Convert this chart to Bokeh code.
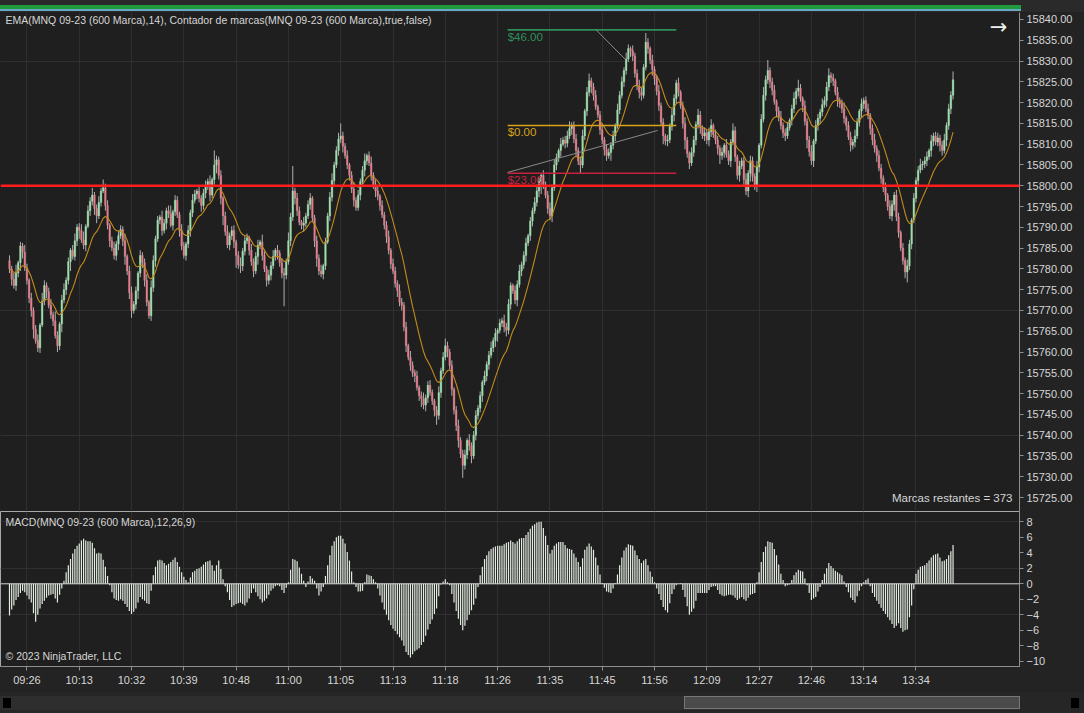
from bokeh.plotting import figure
from bokeh.models import (Range1d, FixedTicker, Span, Label, Div,
                          ColumnDataSource, GlobalInlineStyleSheet, NumeralTickFormatter)
from bokeh.layouts import column
from bokeh.embed import file_html
from bokeh.resources import INLINE

# ---------------- data ----------------
first_open = 15782.0
closes = [
    15780.0, 15777.5, 15776.0, 15779.0, 15781.5, 15785.5, 15784.0, 15780.25, 15777.25, 15773.0,
    15770.0, 15765.5, 15762.75, 15761.0, 15766.5, 15772.25, 15776.0, 15774.5, 15771.25, 15769.0,
    15767.5, 15764.0, 15761.5, 15766.75, 15772.5, 15775.0, 15777.25, 15781.75, 15784.5, 15783.0,
    15786.75, 15790.0, 15789.25, 15787.0, 15785.75, 15790.25, 15794.0, 15796.25, 15797.75, 15794.5,
    15792.75, 15796.0, 15798.75, 15799.5, 15795.25, 15790.5, 15786.75, 15785.0, 15783.25, 15786.0,
    15788.0, 15789.5, 15786.75, 15783.0, 15779.5, 15774.25, 15770.0, 15771.5, 15774.75, 15779.0,
    15783.25, 15781.5, 15777.25, 15772.0, 15768.75, 15775.5, 15782.0, 15787.25, 15791.75, 15792.5,
    15789.25, 15791.0, 15794.0, 15793.25, 15790.5, 15793.75, 15796.5, 15793.0, 15789.25, 15785.5,
    15783.25, 15786.0, 15789.25, 15793.5, 15796.5, 15798.0, 15798.75, 15797.0, 15795.25, 15798.25,
    15800.0, 15801.0, 15797.75, 15801.5, 15805.0, 15806.25, 15802.5, 15797.0, 15792.75, 15789.0,
    15785.75, 15788.0, 15789.25, 15786.5, 15783.25, 15781.0, 15780.75, 15784.25, 15786.75, 15787.5,
    15784.5, 15781.75, 15779.5, 15783.0, 15785.75, 15786.5, 15783.25, 15780.0, 15777.25, 15778.5,
    15780.75, 15783.0, 15784.5, 15783.75, 15781.5, 15779.0, 15778.5, 15781.75, 15786.75, 15792.5,
    15798.75, 15797.0, 15794.0, 15791.25, 15790.5, 15791.0, 15792.75, 15795.5, 15797.0, 15792.25,
    15786.75, 15782.5, 15779.5, 15778.75, 15780.75, 15786.5, 15792.75, 15797.25, 15801.25, 15805.0,
    15808.5, 15811.25, 15812.0, 15809.5, 15807.25, 15805.0, 15802.5, 15799.25, 15796.5, 15794.75,
    15797.75, 15801.0, 15803.75, 15806.0, 15807.25, 15805.5, 15802.5, 15800.25, 15798.75, 15797.5,
    15795.25, 15793.0, 15790.5, 15787.75, 15784.5, 15781.25, 15779.5, 15776.5, 15774.75, 15772.0,
    15771.25, 15766.0, 15761.5, 15758.75, 15756.75, 15755.0, 15754.25, 15751.5, 15749.5, 15748.75,
    15747.25, 15749.0, 15752.0, 15750.25, 15748.25, 15746.0, 15744.75, 15750.25, 15755.5, 15758.75,
    15761.5, 15760.0, 15756.75, 15751.0, 15746.0, 15742.25, 15738.75, 15735.5, 15732.75, 15735.25,
    15738.75, 15737.5, 15735.0, 15740.0, 15744.75, 15746.5, 15749.5, 15752.75, 15754.25, 15757.0,
    15759.25, 15761.0, 15762.75, 15764.5, 15765.25, 15767.0, 15767.5, 15766.0, 15765.25, 15771.5,
    15776.0, 15774.75, 15772.5, 15776.25, 15779.5, 15781.0, 15783.25, 15786.25, 15788.0, 15791.5,
    15794.0, 15796.0, 15798.75, 15801.0, 15802.5, 15800.25, 15797.75, 15794.5, 15792.75, 15799.5,
    15805.0, 15806.75, 15808.5, 15810.0, 15811.0, 15810.25, 15812.0, 15813.75, 15814.5, 15811.25,
    15808.5, 15806.0, 15805.0, 15812.0, 15818.0, 15822.5, 15825.25, 15823.75, 15821.75, 15819.0,
    15817.0, 15813.5, 15811.0, 15808.75, 15807.25, 15808.0, 15809.75, 15812.0, 15814.5, 15818.25,
    15821.75, 15825.0, 15827.75, 15830.5, 15833.0, 15832.5, 15831.25, 15827.0, 15824.0, 15822.5,
    15821.75, 15828.5, 15834.5, 15833.0, 15830.25, 15828.0, 15825.75, 15822.75, 15819.25, 15815.25,
    15812.0, 15810.75, 15811.0, 15814.25, 15817.0, 15821.0, 15824.75, 15822.5, 15819.25, 15815.0,
    15811.0, 15807.75, 15805.5, 15808.0, 15811.0, 15814.75, 15817.0, 15814.0, 15812.0, 15812.75,
    15811.0, 15813.0, 15814.5, 15812.25, 15811.0, 15809.0, 15807.25, 15808.0, 15809.75, 15807.5,
    15806.0, 15810.5, 15813.25, 15807.0, 15802.5, 15804.75, 15806.0, 15801.5, 15798.75, 15803.0,
    15806.0, 15802.25, 15800.0, 15804.5, 15809.75, 15816.0, 15821.75, 15825.5, 15827.75, 15825.0,
    15823.0, 15820.25, 15818.0, 15816.5, 15814.5, 15812.75, 15812.0, 15814.0, 15815.75, 15818.5,
    15821.0, 15822.75, 15823.5, 15821.0, 15819.25, 15815.5, 15811.0, 15808.25, 15806.0, 15810.75,
    15814.5, 15816.25, 15817.75, 15819.5, 15820.5, 15823.75, 15826.5, 15826.0, 15825.25, 15822.5,
    15820.5, 15819.75, 15818.5, 15816.25, 15814.5, 15811.75, 15809.75, 15810.5, 15812.0, 15815.25,
    15818.0, 15819.75, 15820.5, 15818.5, 15817.0, 15813.75, 15811.0, 15809.0, 15807.25, 15804.25,
    15801.75, 15799.5, 15797.75, 15795.0, 15792.75, 15795.5, 15797.75, 15792.5, 15788.75, 15785.0,
    15782.0, 15779.25, 15780.75, 15786.0, 15791.75, 15797.0, 15801.25, 15803.75, 15805.0, 15805.25,
    15806.0, 15807.0, 15808.5, 15810.75, 15812.0, 15810.5, 15811.5, 15809.75, 15808.5, 15811.0,
    15814.5, 15818.5, 15821.75, 15825.5,
]
# wick lengths in ticks (1 tick = 0.25)
wick_up_ticks = [
    5, 3, 6, 8, 2, 4, 3, 7, 4, 2, 5, 3, 4, 6, 2, 8, 5, 3, 4, 6,
    3, 9, 4, 2, 5, 6, 3, 4, 2, 5, 7, 3, 4, 6, 8, 2, 5, 4, 7, 3,
    4, 6, 3, 8, 4, 5, 2, 4, 6, 3, 5, 4, 3, 7, 2, 5, 6, 3, 4, 2,
    5, 3, 4, 6, 2, 7, 5, 3, 4, 2, 6, 4, 3, 5, 8, 2, 5, 4, 3, 6,
    4, 2, 5, 3, 6, 4, 2, 5, 3, 4, 5, 3, 6, 2, 14, 4, 3, 5, 2, 4,
    6, 3, 4, 5, 2, 4, 7, 3, 5, 4, 2, 6, 3, 4, 5, 2, 7, 4, 3, 5,
    4, 6, 2, 5, 3, 4, 5, 3, 8, 4, 24, 3, 5, 4, 2, 6, 3, 4, 5, 2,
    3, 5, 4, 6, 2, 4, 3, 5, 7, 3, 4, 6, 12, 4, 3, 5, 2, 4, 6, 3,
    5, 3, 4, 7, 2, 4, 6, 3, 5, 4, 2, 5, 3, 4, 6, 2, 5, 4, 3, 6,
    4, 3, 5, 2, 6, 4, 3, 5, 2, 4, 6, 3, 4, 5, 3, 2, 4, 6, 3, 5,
    7, 4, 3, 5, 2, 4, 6, 3, 4, 5, 2, 6, 3, 4, 5, 3, 4, 2, 5, 3,
    4, 6, 3, 5, 2, 4, 3, 6, 4, 5, 3, 2, 5, 4, 6, 3, 4, 5, 2, 4,
    3, 5, 6, 4, 2, 5, 3, 4, 6, 3, 5, 4, 2, 6, 3, 4, 5, 7, 3, 4,
    5, 3, 4, 6, 2, 5, 7, 3, 4, 5, 2, 4, 6, 3, 5, 4, 3, 5, 2, 6,
    4, 5, 3, 6, 4, 2, 5, 3, 4, 6, 5, 3, 9, 4, 2, 5, 3, 4, 6, 3,
    4, 2, 5, 3, 6, 4, 3, 5, 2, 4, 6, 3, 2, 5, 4, 3, 6, 4, 2, 5,
    3, 4, 6, 2, 5, 4, 3, 5, 2, 6, 4, 3, 7, 4, 2, 5, 3, 4, 6, 3,
    5, 4, 3, 6, 2, 5, 8, 4, 10, 3, 4, 5, 2, 4, 6, 3, 4, 5, 2, 4,
    6, 3, 8, 4, 2, 5, 3, 4, 6, 2, 5, 4, 3, 6, 4, 5, 7, 3, 4, 2,
    5, 3, 4, 6, 2, 4, 5, 3, 6, 4, 2, 5, 3, 4, 5, 2, 4, 6, 3, 5,
    4, 3, 5, 2, 6, 4, 3, 5, 4, 2, 5, 3, 6, 4, 2, 5, 3, 4, 6, 3,
    4, 5, 2, 6, 3, 4, 5, 3, 4, 6, 3, 5, 4, 8,
]
wick_dn_ticks = [
    4, 6, 3, 5, 4, 8, 6, 3, 4, 5, 6, 9, 3, 4, 5, 2, 4, 6, 3, 4,
    5, 3, 6, 4, 8, 3, 5, 4, 9, 3, 4, 5, 8, 3, 4, 6, 2, 5, 4, 6,
    7, 3, 4, 2, 5, 4, 6, 3, 4, 5, 6, 3, 5, 8, 4, 6, 7, 3, 5, 8,
    4, 5, 6, 4, 3, 5, 4, 6, 3, 4, 5, 3, 6, 4, 2, 5, 4, 3, 6, 4,
    3, 5, 4, 6, 4, 3, 5, 4, 6, 4, 5, 4, 6, 3, 5, 8, 4, 6, 9, 4,
    3, 5, 4, 6, 12, 4, 7, 5, 4, 3, 5, 4, 6, 3, 8, 4, 5, 3, 6, 4,
    5, 3, 4, 6, 4, 5, 30, 4, 3, 5, 4, 6, 5, 3, 4, 6, 4, 3, 5, 4,
    6, 8, 4, 3, 5, 4, 2, 5, 4, 6, 3, 5, 4, 6, 3, 4, 5, 4, 6, 3,
    3, 5, 4, 6, 4, 3, 5, 4, 6, 4, 5, 3, 4, 6, 4, 5, 3, 4, 6, 4,
    5, 4, 6, 3, 5, 4, 6, 3, 5, 8, 4, 6, 5, 3, 4, 6, 9, 4, 5, 3,
    3, 5, 4, 6, 4, 5, 7, 4, 12, 4, 4, 5, 7, 3, 5, 4, 4, 6, 3, 5,
    5, 3, 4, 6, 8, 3, 4, 5, 6, 4, 5, 3, 4, 6, 3, 5, 4, 6, 3, 5,
    5, 3, 4, 6, 12, 4, 3, 5, 4, 6, 3, 5, 4, 6, 2, 5, 4, 3, 6, 4,
    6, 4, 8, 3, 4, 5, 4, 6, 5, 3, 3, 5, 4, 6, 5, 3, 8, 4, 5, 3,
    4, 3, 5, 4, 3, 6, 5, 4, 4, 6, 5, 3, 3, 5, 4, 6, 6, 4, 5, 3,
    8, 4, 5, 3, 4, 6, 5, 4, 3, 5, 9, 4, 6, 3, 4, 5, 4, 6, 3, 5,
    4, 6, 5, 3, 4, 6, 8, 4, 5, 3, 4, 6, 3, 5, 4, 6, 3, 5, 4, 6,
    8, 5, 4, 6, 5, 3, 3, 5, 4, 6, 5, 3, 6, 4, 4, 5, 5, 3, 3, 5,
    4, 6, 5, 3, 6, 4, 8, 5, 4, 6, 3, 5, 5, 4, 3, 6, 4, 5, 5, 3,
    6, 4, 4, 5, 5, 3, 6, 4, 5, 3, 4, 6, 5, 3, 4, 6, 5, 4, 6, 3,
    5, 4, 6, 4, 3, 5, 6, 4, 5, 3, 4, 6, 10, 4, 5, 3, 4, 6, 3, 5,
    4, 5, 3, 6, 5, 3, 4, 6, 5, 3, 6, 4, 5, 4,
]
macd_hist = [
    -4.1, -3.3, -2.8, -2.1, -1.7, -1.2, -0.9, -1.1, -1.5, -2.0,
    -2.4, -3.8, -4.9, -4.0, -3.2, -2.6, -2.2, -1.8, -1.5, -1.4,
    -1.3, -1.9, -2.4, -1.4, -0.6, 0.4, 1.5, 2.4, 3.2, 3.9,
    4.5, 4.9, 5.2, 5.6, 5.8, 5.6, 5.5, 5.5, 5.3, 4.6,
    3.9, 4.0, 3.9, 3.1, 2.2, 1.0, -0.2, -1.1, -1.9, -2.1,
    -2.2, -2.0, -2.2, -2.6, -3.0, -3.5, -3.9, -3.6, -3.2, -2.4,
    -1.7, -2.0, -2.2, -2.5, -2.6, -0.9, 1.1, 2.2, 3.0, 3.1,
    3.0, 2.7, 2.4, 2.6, 2.8, 3.1, 3.4, 2.8, 2.2, 1.5,
    0.9, 0.5, 0.2, 0.8, 1.5, 1.7, 1.9, 2.0, 2.2, 2.5,
    2.8, 2.9, 3.0, 2.4, 1.7, 2.4, 3.0, 1.9, 0.6, -0.3,
    -1.1, -2.1, -3.0, -2.8, -2.6, -2.5, -2.4, -2.6, -2.8, -2.4,
    -1.9, -1.2, -0.6, -1.1, -1.6, -2.0, -2.4, -2.2, -1.9, -1.4,
    -0.9, -0.6, -0.3, -0.2, -0.3, -0.8, -1.2, -0.5, 0.2, 1.8,
    3.2, 3.1, 2.9, 2.1, 1.3, 0.4, -0.4, 0.3, 1.0, 0.7,
    0.4, -0.6, -1.5, -1.0, -0.4, 1.0, 2.4, 3.7, 4.9, 5.5,
    6.0, 6.2, 6.2, 5.8, 5.2, 4.1, 3.0, 1.6, 0.2, -0.4,
    -1.0, -1.0, -0.9, 0.2, 1.2, 1.1, 1.0, 0.6, 0.2, -0.6,
    -1.5, -2.4, -3.3, -4.0, -4.7, -5.3, -5.8, -6.1, -6.5, -6.9,
    -7.3, -8.0, -8.8, -9.2, -9.5, -9.1, -8.7, -8.5, -8.3, -7.9,
    -7.5, -6.7, -5.9, -5.2, -4.6, -3.9, -3.2, -1.6, -0.1, 0.3,
    0.6, 0.2, -0.2, -1.3, -2.4, -3.5, -4.5, -5.3, -6.0, -5.4,
    -4.7, -4.0, -3.4, -2.7, -1.9, -0.4, 1.1, 2.2, 3.2, 3.7,
    4.2, 4.5, 4.7, 4.8, 4.9, 4.9, 4.9, 5.1, 5.3, 5.4,
    5.6, 5.4, 5.2, 5.5, 5.8, 5.9, 5.9, 6.3, 6.7, 7.1,
    7.5, 7.7, 7.9, 8.0, 8.0, 7.2, 6.2, 5.0, 3.9, 4.4,
    4.9, 5.2, 5.4, 5.4, 5.4, 5.0, 4.6, 4.5, 4.4, 3.9,
    3.4, 2.8, 2.2, 3.3, 4.4, 4.8, 5.2, 4.8, 4.4, 3.4,
    2.4, 1.2, 0.1, -0.5, -1.0, -1.1, -1.2, -0.6, 0.1, 1.2,
    2.4, 3.4, 4.3, 4.7, 5.1, 5.0, 4.9, 4.3, 3.7, 3.2,
    2.7, 3.0, 3.2, 2.4, 1.6, 0.9, 0.2, -0.6, -1.3, -2.1,
    -3.0, -3.4, -3.7, -2.5, -1.3, -0.7, -0.2, 0.0, 0.1, -0.8,
    -1.7, -2.9, -4.0, -3.6, -3.2, -2.2, -1.2, -1.2, -1.2, -1.2,
    -1.2, -0.8, -0.4, -0.3, -0.3, -0.8, -1.3, -1.5, -1.6, -1.5,
    -1.4, -1.4, -1.5, -1.8, -2.1, -1.9, -1.7, -2.0, -2.2, -1.8,
    -1.4, -1.3, -1.2, 0.2, 1.5, 2.8, 4.1, 4.8, 5.5, 5.4,
    5.3, 4.5, 3.7, 2.5, 1.3, 0.5, -0.3, -0.2, -0.1, 0.5,
    1.1, 1.5, 1.8, 1.7, 1.6, 0.7, -0.2, -1.2, -2.1, -1.9,
    -1.7, -1.0, -0.4, 0.5, 1.3, 2.0, 2.7, 2.3, 2.0, 1.7,
    1.5, 1.3, 1.1, 0.3, -0.4, -1.1, -1.8, -2.1, -2.4, -1.6,
    -0.9, -0.3, 0.2, 0.5, 0.7, -0.3, -1.2, -1.7, -2.2, -2.6,
    -3.1, -3.5, -3.9, -4.3, -4.7, -5.2, -5.7, -5.4, -5.1, -5.7,
    -6.2, -6.0, -5.9, -4.3, -2.8, -0.7, 1.3, 1.8, 2.2, 2.3,
    2.4, 2.7, 3.0, 3.4, 3.7, 3.8, 3.9, 3.4, 2.9, 3.0,
    3.2, 3.7, 4.2, 5.02,
]
time_labels = ["09:26", "10:13", "10:32", "10:39", "10:48", "11:00", "11:05", "11:13", "11:18",
               "11:26", "11:35", "11:45", "11:56", "12:09", "12:27", "12:46", "13:14", "13:34"]
label_first_bar = 8
label_every = 24
price_ticks = [15725, 15730, 15735, 15740, 15745, 15750, 15755, 15760, 15765, 15770, 15775, 15780,
               15785, 15790, 15795, 15800, 15805, 15810, 15815, 15820, 15825, 15830, 15835, 15840]
price_grid = [15740, 15770, 15800, 15830]
macd_ticks = [-10, -8, -6, -4, -2, 0, 2, 4, 6, 8]
macd_grid = [-4, 2, 8]
key_level = 15800.0
ema_period = 14
ema_last_text = "15817.87"
ema_last_value = 15817.87
last_price_text = "15825.50"
macd_last_text = "5.02"
# risk / reward drawing (bar index / price anchors)
rr_start, rr_end = 228.6, 306.0
rr_prices = [15837.5, 15814.5, 15803.0]
rr_texts = ["$46.00", "$0.00", "$23.00"]
rr_colors = ["#2f8f5b", "#d9a21b", "#c8213f"]
rr_link_x0 = [269.0, 228.6]
rr_link_y0 = [15837.6, 15803.2]
rr_link_x1 = [282.6, 297.4]
rr_link_y1 = [15830.4, 15813.3]
bars_remaining = "Marcas restantes = 373"

N = len(closes)
assert len(wick_up_ticks) == N and len(wick_dn_ticks) == N and len(macd_hist) == N, \
    (N, len(wick_up_ticks), len(wick_dn_ticks), len(macd_hist))

TICK = 0.25
idx = list(range(N))
opens = [first_open] + closes[:-1]
highs = [max(o, c) + u * TICK for o, c, u in zip(opens, closes, wick_up_ticks)]
lows = [min(o, c) - d * TICK for o, c, d in zip(opens, closes, wick_dn_ticks)]
alpha = 2.0 / (ema_period + 1)
ema = [closes[0]]
for c in closes[1:]:
    ema.append(ema[-1] + alpha * (c - ema[-1]))

UP, DN = "#9fe0ae", "#e3808d"
src = ColumnDataSource(dict(
    x=idx, h=highs, l=lows,
    top=[max(o, c) for o, c in zip(opens, closes)],
    bottom=[min(o, c) for o, c in zip(opens, closes)],
    color=[UP if c >= o else DN for o, c in zip(opens, closes)],
))

tick_idx = [label_first_bar + label_every * k for k in range(len(time_labels))]

# ---------------- layout constants ----------------
W = 1084
RIGHT = 65
PRICE_H = 499
MACD_H = 181
X0, X1 = -4.13, 463.5
PY0, PY1 = 15721.64, 15841.68
MY0, MY1 = -10.67, 9.33
BG = "#1f1f1f"
BORDER = "#232323"
GRID = "#2f2f2f"
AXIS = "#8e8e8e"
TXT = "#d6d6d6"
FONT = "Liberation Sans"


def style_axis(ax):
    ax.axis_line_color = AXIS
    ax.major_tick_line_color = AXIS
    ax.major_tick_out = 4
    ax.major_tick_in = 0
    ax.minor_tick_line_color = None
    ax.major_label_text_color = TXT
    ax.major_label_text_font = FONT
    ax.major_label_text_font_size = "11px"
    ax.major_label_standoff = 3


# ---------------- price panel ----------------
p = figure(width=W, height=PRICE_H, x_range=Range1d(X0, X1), y_range=Range1d(PY0, PY1),
           output_backend="svg", toolbar_location=None, x_axis_location=None,
           y_axis_location="right", min_border_left=0, min_border_right=RIGHT,
           min_border_top=0, min_border_bottom=0, background_fill_color=BG,
           border_fill_color=BORDER, outline_line_color=None)
p.yaxis.ticker = FixedTicker(ticks=price_ticks)
p.yaxis.formatter = NumeralTickFormatter(format="0.00")
style_axis(p.yaxis[0])
p.ygrid.ticker = FixedTicker(ticks=price_grid)
p.ygrid.grid_line_color = GRID
p.xgrid.ticker = FixedTicker(ticks=tick_idx)
p.xgrid.grid_line_color = GRID

p.segment(x0="x", y0="h", x1="x", y1="l", source=src, line_color="#b0b0b0", line_width=1)
p.vbar(x="x", top="top", bottom="bottom", width=0.72, fill_color="color",
       line_color="color", line_width=0.4, source=src)
p.line(idx, ema, line_color="#c38b1c", line_width=1.1)

p.add_layout(Span(location=key_level, dimension="width", line_color="#ff1c1c", line_width=2.5))

p.segment(x0=[rr_start] * 3, y0=rr_prices, x1=[rr_end] * 3, y1=rr_prices,
          line_color=rr_colors, line_width=1.6)
p.segment(x0=rr_link_x0, y0=rr_link_y0, x1=rr_link_x1, y1=rr_link_y1,
          line_color="#8a8a8a", line_width=1)
for pr, tx, col in zip(rr_prices, rr_texts, rr_colors):
    p.add_layout(Label(x=rr_start, y=pr, text=tx, text_color=col, text_font=FONT,
                       text_font_size="11.5px", text_baseline="top", y_offset=-1))

p.add_layout(Label(x=X0, y=PY1, x_offset=5, y_offset=-1, text_baseline="top",
                   text="EMA(MNQ 09-23 (600 Marca),14), Contador de marcas(MNQ 09-23 (600 Marca),true,false)",
                   text_color=TXT, text_font=FONT, text_font_size="10.5px"))
p.add_layout(Label(x=X1, y=15725, x_offset=-7, text_align="right", text_baseline="middle",
                   text=bars_remaining, text_color=TXT, text_font=FONT, text_font_size="11.5px"))
p.add_layout(Label(x=X1, y=15838.1, x_offset=-21, text_align="center", text_baseline="middle",
                   text="\u2192", text_color="#eeeeee", text_font="DejaVu Sans", text_font_size="21px"))

p.add_layout(Label(x=X1, y=closes[-1], x_offset=1, text_align="left", text_baseline="middle",
                   text=last_price_text, text_color="#ffffff", text_font=FONT,
                   text_font_style="bold", text_font_size="11px", background_fill_color="#4b4b4b",
                   border_line_color="#a0a0a0", padding=2))
p.add_layout(Label(x=X1, y=ema_last_value, x_offset=1, text_align="left", text_baseline="middle",
                   text=ema_last_text, text_color="#ffffff", text_font=FONT,
                   text_font_style="bold", text_font_size="11px", background_fill_color="#2a2a2a",
                   border_line_color="#a0a0a0", padding=2))

# ---------------- MACD panel ----------------
m = figure(width=W, height=MACD_H, x_range=p.x_range, y_range=Range1d(MY0, MY1),
           output_backend="svg", toolbar_location=None, x_axis_location="below",
           y_axis_location="right", min_border_left=0, min_border_right=RIGHT,
           min_border_top=0, min_border_bottom=26, background_fill_color=BG,
           border_fill_color=BORDER, outline_line_color="#a8a8a8")
m.xaxis.ticker = FixedTicker(ticks=tick_idx)
m.xaxis.major_label_overrides = {t: lbl for t, lbl in zip(tick_idx, time_labels)}
m.yaxis.ticker = FixedTicker(ticks=macd_ticks)
style_axis(m.xaxis[0])
style_axis(m.yaxis[0])
m.ygrid.ticker = FixedTicker(ticks=macd_grid)
m.ygrid.grid_line_color = GRID
m.xgrid.grid_line_color = GRID

m.vbar(x=idx, top=macd_hist, bottom=0, width=0.55, fill_color="#e3ece1", line_color=None)
m.add_layout(Span(location=0, dimension="width", line_color="#d4d4d4", line_width=1))

m.add_layout(Label(x=X0, y=MY1, x_offset=5, y_offset=-4, text_baseline="top",
                   text="MACD(MNQ 09-23 (600 Marca),12,26,9)", text_color=TXT,
                   text_font=FONT, text_font_size="10.5px"))
m.add_layout(Label(x=X0, y=MY0, x_offset=5, y_offset=5, text_baseline="bottom",
                   text="\u00a9 2023 NinjaTrader, LLC", text_color=TXT,
                   text_font=FONT, text_font_size="10.5px"))
m.add_layout(Label(x=X1, y=macd_hist[-1], x_offset=1, text_align="left", text_baseline="middle",
                   text=macd_last_text, text_color="#ffffff", text_font=FONT,
                   text_font_style="bold", text_font_size="11px", background_fill_color="#3c3c3c",
                   border_line_color="#a0a0a0", padding=2))

# ---------------- window chrome ----------------
top_strip = Div(width=W, height=12, margin=0, text=(
    '<div style="position:relative;width:1084px;height:12px;background:#2a2a2a;">'
    '<div style="position:absolute;left:0;top:5px;width:1021px;height:4px;background:#1f9a3d;"></div>'
    '<div style="position:absolute;left:0;top:9px;width:1021px;height:2px;background:#6aa8c4;"></div>'
    '</div>'))
scroll_strip = Div(width=W, height=21, margin=0, text=(
    '<div style="position:relative;width:1084px;height:21px;background:#262626;">'
    '<div style="position:absolute;left:0;top:4px;width:1020px;height:14px;background:#2e2e2e;"></div>'
    '<div style="position:absolute;left:3px;top:6px;width:8px;height:10px;background:#000;"></div>'
    '<div style="position:absolute;left:684px;top:4px;width:336px;height:13px;background:#4a4a4a;border:1px solid #777;"></div>'
    '<div style="position:absolute;left:1071px;top:6px;width:8px;height:10px;background:#000;"></div>'
    '</div>'))

layout = column(top_strip, p, m, scroll_strip, spacing=0,
                stylesheets=[GlobalInlineStyleSheet(css="html,body{margin:0;padding:0;background:#232323;overflow:hidden;}")])

open("out.html", "w").write(file_html(layout, INLINE))
